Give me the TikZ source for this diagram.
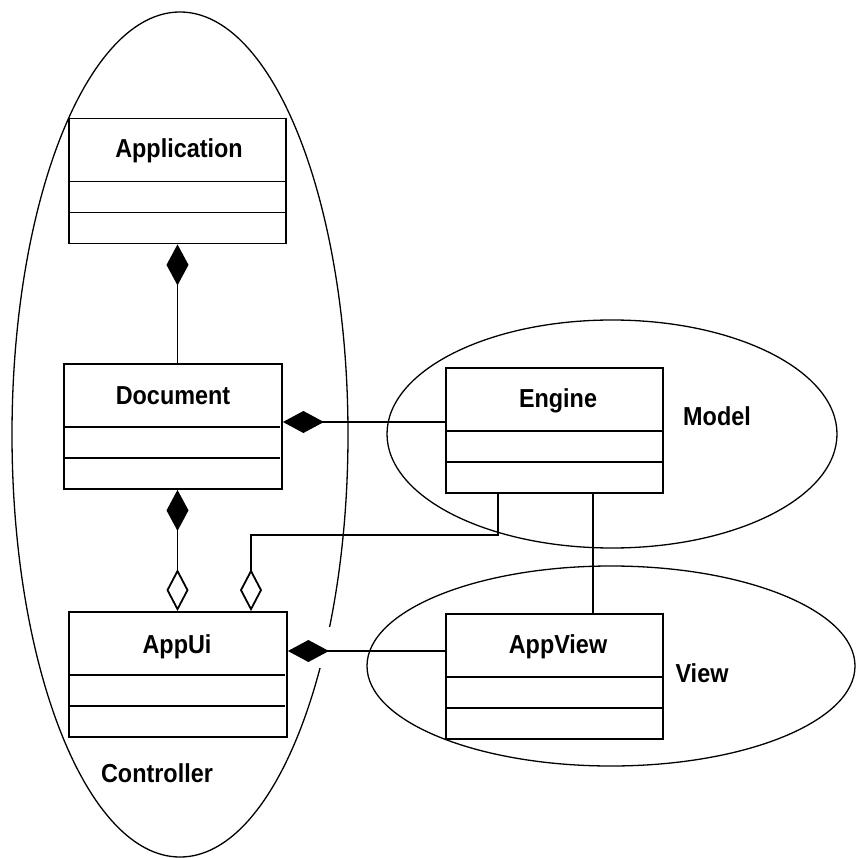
\documentclass[tikz,border=0pt]{standalone}
\usepackage{fontspec}
\setmainfont[FakeStretch=0.9]{Liberation Sans}
\usetikzlibrary{arrows.meta,shapes.geometric}
\newcommand\classlines[1]{%
  \draw[divider] (#1.north west) ++(0,64) -- ++(217,0);
  \draw[divider] (#1.north west) ++(0,95) -- ++(217,0);}
\begin{document}
\begin{tikzpicture}[x=1pt,y=-1pt,
  classbox/.style={draw,line width=1.8pt,fill=white,minimum width=217pt,minimum height=125pt,inner sep=0pt},
  divider/.style={line width=1.8pt},
  title/.style={font=\fontsize{26}{30}\selectfont\bfseries,anchor=base},
  lbl/.style={font=\fontsize{26}{30}\selectfont\bfseries},
  group/.style={draw,ellipse,line width=1.3pt,inner sep=0pt},
  conn/.style={line width=1.8pt},
  comp/.style={conn,-{Diamond[length=41pt,width=22pt,fill=black]}},
  aggr/.style={conn,-{Diamond[open,length=42pt,width=22pt,fill=white]}},
]
\useasboundingbox (0,0) rectangle (864,858);
% groups
\node[group,minimum width=336pt,minimum height=845pt] (ctrl) at (180,434.5) {};
\node[group,minimum width=450pt,minimum height=228pt] (model) at (612,434) {};
\node[group,minimum width=488pt,minimum height=200pt] (view) at (611,666) {};
\fill[white] (312,627) rectangle (340,668);
% classes
\node[classbox] (app) at (177.5,181) {};
\node[classbox,minimum width=218pt] (doc) at (173,426.5) {};
\node[classbox,minimum width=218pt] (appui) at (178,674.5) {};
\node[classbox] (engine) at (554.5,430.5) {};
\node[classbox] (appview) at (554.5,676.5) {};
\classlines{app}
\classlines{doc}
\classlines{appui}
\classlines{engine}
\classlines{appview}
\node[title] (appT) at (179,158) {Application};
\node[title] (docT) at (173,404) {Document};
\node[title] (appuiT) at (177,653) {AppUi};
\node[title] (engineT) at (558,407) {Engine};
\node[title] (appviewT) at (558,653) {AppView};
% labels
\node[lbl] (ctrlL) at (157,773) {Controller};
\node[lbl] (modelL) at (717,416) {Model};
\node[lbl] (viewL) at (702,673) {View};
% connectors
\draw[comp] (app.south |- doc.north) -- (app.south);
\draw[comp] (engine.west |- 0,422) -- (doc.east |- 0,422);
\draw[conn,{Diamond[open,length=42pt,width=22pt,fill=white]}-{Diamond[length=41pt,width=22pt,fill=black]}] (appui.north -| app.south) -- (doc.south -| app.south);
\draw[aggr] (engine.south -| 498,0) -- (498,535) -- (251,535) -- (appui.north -| 251,0);
\draw[conn] (engine.south -| 593,0) -- (appview.north -| 593,0);
\draw[comp] (appview.west |- 0,651) -- (appui.east |- 0,651);
\end{tikzpicture}
\end{document}
